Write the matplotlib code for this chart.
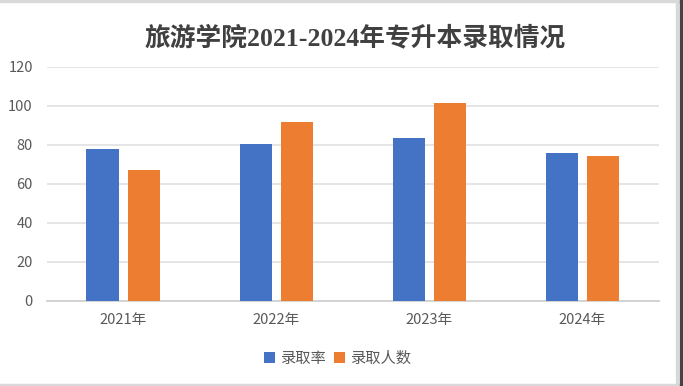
import matplotlib
matplotlib.use("Agg")
import matplotlib.pyplot as plt
from matplotlib.patches import Rectangle
import numpy as np

plt.rcParams['font.family'] = ['Noto Sans CJK SC', 'DejaVu Sans']

title = "旅游学院2021-2024年专升本录取情况"
categories = ["2021年", "2022年", "2023年", "2024年"]
series_names = ["录取率", "录取人数"]
rate = [78, 80.5, 83.5, 75.5]
count = [67, 91.5, 101.5, 74]
yticks = [0, 20, 40, 60, 80, 100, 120]

colors = ["#4472C4", "#ED7D31"]
text_col = "#595959"

W, H = 683, 386
fig = plt.figure(figsize=(W / 100, H / 100), dpi=100)
ax = fig.add_axes([46.7 / W, 1 - 300.7 / H, (659 - 46.7) / W, (300.7 - 66.7) / H])

x = np.arange(len(categories))
bw = 0.212
off = 0.134
ax.bar(x - off, rate, bw, color=colors[0], label=series_names[0], zorder=3)
ax.bar(x + off, count, bw, color=colors[1], label=series_names[1], zorder=3)

ax.set_xlim(-0.5, len(categories) - 0.5)
ax.set_ylim(0, 120)
ax.set_yticks(yticks)
ax.set_yticklabels([str(v) for v in yticks])
ax.set_xticks(x)
ax.set_xticklabels(categories)
ax.yaxis.grid(True, color="#E0E0E0", linewidth=1.2, zorder=0)
ax.set_axisbelow(True)
for s in ["top", "right", "left"]:
    ax.spines[s].set_visible(False)
ax.spines["bottom"].set_color("#D0D0D0")
ax.spines["bottom"].set_linewidth(1.3)
ax.tick_params(axis="both", length=0, colors=text_col, labelsize=10.5)
ax.tick_params(axis="y", pad=10)
ax.tick_params(axis="x", pad=9)
for lab in ax.get_xticklabels() + ax.get_yticklabels():
    lab.set_color(text_col)

fig.text(355 / W, 1 - 38 / H, title, ha="center", va="center",
         fontsize=18.5, fontweight="bold", color="#404040",
         family=["Liberation Serif", "Noto Sans CJK SC"])

leg = fig.legend(loc="center", bbox_to_anchor=(338 / W, 1 - 358 / H), ncol=2,
                 frameon=False, fontsize=11, handlelength=0.7, handleheight=0.7,
                 handletextpad=0.4, columnspacing=0.5)
for t in leg.get_texts():
    t.set_color(text_col)

# frame decoration
fig.patches.append(Rectangle((0, 1 - 1.5 / H), 1, 1.5 / H, transform=fig.transFigure,
                             color="#D9D9D9", zorder=0))
fig.patches.append(Rectangle((0, 0), 1, 2.5 / H, transform=fig.transFigure,
                             color="#D9D9D9", zorder=0))
fig.patches.append(Rectangle((676 / W, 0), 2 / W, 1, transform=fig.transFigure,
                             color="#D9D9D9", zorder=0))
fig.patches.append(Rectangle((679.5 / W, 0), 3.5 / W, 1, transform=fig.transFigure,
                             color="#444444", zorder=0))

fig.savefig("out.png", dpi=100)
